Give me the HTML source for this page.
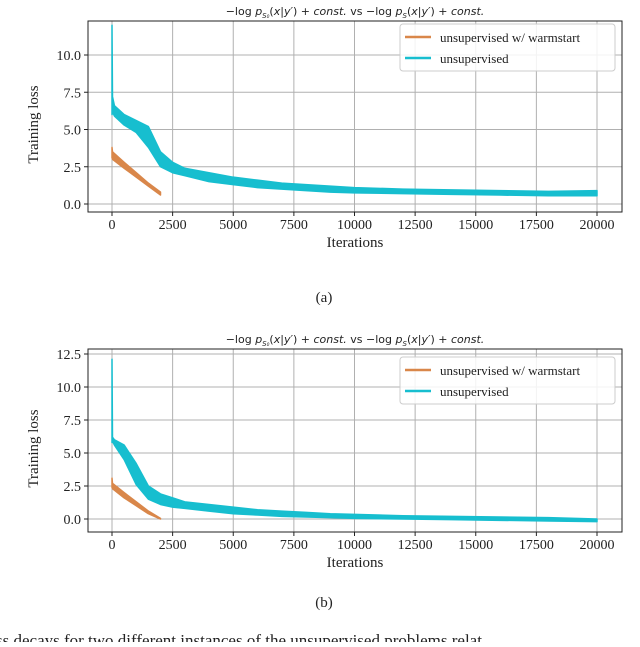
<!DOCTYPE html>
<html><head><meta charset="utf-8">
<style>
body{margin:0;background:#fff;width:640px;height:642px;overflow:hidden}
svg text{font-family:"Liberation Serif",serif;fill:#222}
.t{font-family:"DejaVu Sans","Liberation Sans",sans-serif;font-size:11px}
</style></head><body>
<svg id="s" width="640" height="642" xmlns="http://www.w3.org/2000/svg"></svg>
<script>
const xs = [0,20,100,500,1000,1500,2000,2500,3000,4000,5000,6000,7000,8000,9000,10000,12000,14000,16000,18000,20000];
const aCyanHi = [12,7.2,6.6,6.0,5.6,5.2,3.5,2.8,2.4,2.1,1.8,1.6,1.4,1.3,1.2,1.1,1.0,0.95,0.9,0.85,0.9];
const aCyanLo = [6,6.2,5.9,5.3,4.8,3.8,2.5,2.1,1.9,1.5,1.3,1.1,1.0,0.9,0.8,0.75,0.7,0.65,0.6,0.55,0.55];
const bCyanHi = [12.1,6.2,6.0,5.6,4.2,2.5,1.9,1.6,1.3,1.1,0.9,0.7,0.6,0.5,0.4,0.35,0.25,0.2,0.15,0.1,0.0];
const bCyanLo = [5.8,5.9,5.6,4.5,2.6,1.5,1.1,0.9,0.8,0.6,0.4,0.3,0.2,0.15,0.1,0.05,0,-0.05,-0.1,-0.15,-0.2];
const xo = [0,20,500,1000,1500,2000];
const aOrHi = [3.8,3.5,2.8,2.1,1.4,0.8];
const aOrLo = [3.1,3.0,2.4,1.8,1.2,0.6];
const bOrHi = [3.1,2.7,2.0,1.3,0.6,0.05];
const bOrLo = [2.4,2.3,1.6,1.0,0.4,0.0];
const xTicks = [0,2500,5000,7500,10000,12500,15000,17500,20000];
const aYTicks = [0,2.5,5,7.5,10];
const bYTicks = [0,2.5,5,7.5,10,12.5];
const NS="http://www.w3.org/2000/svg";
const svg=document.getElementById('s');
function el(t,a,p){const e=document.createElementNS(NS,t);for(const k in a)e.setAttribute(k,a[k]);(p||svg).appendChild(e);return e;}
function panel(id,top,bot,y0px,ypu,yT,cHi,cLo,oHi,oLo,lab,labY,legY){
  const L=88,R=622,x0=112,x1=597;
  const X=v=>x0+(v/20000)*(x1-x0), Y=v=>y0px-v*ypu;
  const g=el('g',{});
  
  
  const tt=el('text',{x:355,y:top-6,'text-anchor':'middle',class:'t'},g);
  tt.innerHTML='−log <tspan font-style="italic">p</tspan><tspan font-size="7" dy="3" font-style="italic">S₀</tspan><tspan dy="-3">(</tspan><tspan font-style="italic">x</tspan>|<tspan font-style="italic">y′</tspan>) + <tspan font-style="italic">const.</tspan> vs −log <tspan font-style="italic">p</tspan><tspan font-size="7" dy="3" font-style="italic">S</tspan><tspan dy="-3">(</tspan><tspan font-style="italic">x</tspan>|<tspan font-style="italic">y′</tspan>) + <tspan font-style="italic">const.</tspan>';
  
  
  xTicks.forEach(v=>{
    const l=el('line',{x1:X(v),x2:X(v),y1:top,y2:bot,stroke:'#b0b0b0','stroke-width':1},g);
    
    
    el('line',{x1:X(v),x2:X(v),y1:bot,y2:bot+4,stroke:'#222'},g);
    const t=el('text',{x:X(v),y:bot+17,'text-anchor':'middle','font-size':14},g);
    t.textContent=v;
    
    
  });
  yT.forEach(v=>{
    const l=el('line',{x1:L,x2:R,y1:Y(v),y2:Y(v),stroke:'#b0b0b0','stroke-width':1},g);
    
    
    el('line',{x1:L-4,x2:L,y1:Y(v),y2:Y(v),stroke:'#222'},g);
    const t=el('text',{x:L-7,y:Y(v)+5,'text-anchor':'end','font-size':14},g);
    t.textContent=v.toFixed(1);
    
    
  });
  function band(xa,hi,lo,col,name){
    let d='M'+xa.map((v,i)=>X(v)+','+Y(hi[i])).join(' L');
    for(let i=xa.length-1;i>=0;i--)d+=' L'+X(xa[i])+','+Y(lo[i]);
    const p=el('path',{d:d+'Z',fill:col,stroke:col,'stroke-width':1.5,'stroke-linejoin':'round'},g);
    
    
  }
  band(xs,cHi,cLo,'#17becf','series-unsupervised');
  band(xo,oHi,oLo,'#d9874a','series-warmstart');
  const fr=el('rect',{x:L,y:top,width:R-L,height:bot-top,fill:'none',stroke:'#222','stroke-width':1},g);
  
  
  const lg=el('g',{},g);
  
  
  el('rect',{x:400,y:legY,width:215,height:47,fill:'#fff','fill-opacity':0.85,stroke:'#ccc',rx:3},lg);
  [['unsupervised w/ warmstart','#d9874a'],['unsupervised','#17becf']].forEach((e,i)=>{
    const ey=legY+13+i*21;
    el('line',{x1:405,x2:431,y1:ey,y2:ey,stroke:e[1],'stroke-width':2.5},lg);
    const t=el('text',{x:440,y:ey+5,'font-size':13},lg);
    t.textContent=e[0];
    
    
  });
  const yl=el('text',{x:0,y:0,'font-size':15,'text-anchor':'middle',transform:`translate(38,${(top+bot)/2+8}) rotate(-90)`},g);
  yl.textContent='Training loss';
  
  
  const xl=el('text',{x:355,y:bot+35,'font-size':15,'text-anchor':'middle'},g);
  xl.textContent='Iterations';
  
  
  const sl=el('text',{x:324,y:labY,'font-size':15,'text-anchor':'middle'},g);
  sl.textContent=lab;
  
  
}
panel('a',21,212,204,14.9,aYTicks,aCyanHi,aCyanLo,aOrHi,aOrLo,'(a)',302,24);
panel('b',349,532,519,13.2,bYTicks,bCyanHi,bCyanLo,bOrHi,bOrLo,'(b)',607,357);
const cap=el('text',{x:-4,y:646,'font-size':17});
cap.textContent='ss decays for two different instances of the unsupervised problems relat';


</script>
</body></html>
